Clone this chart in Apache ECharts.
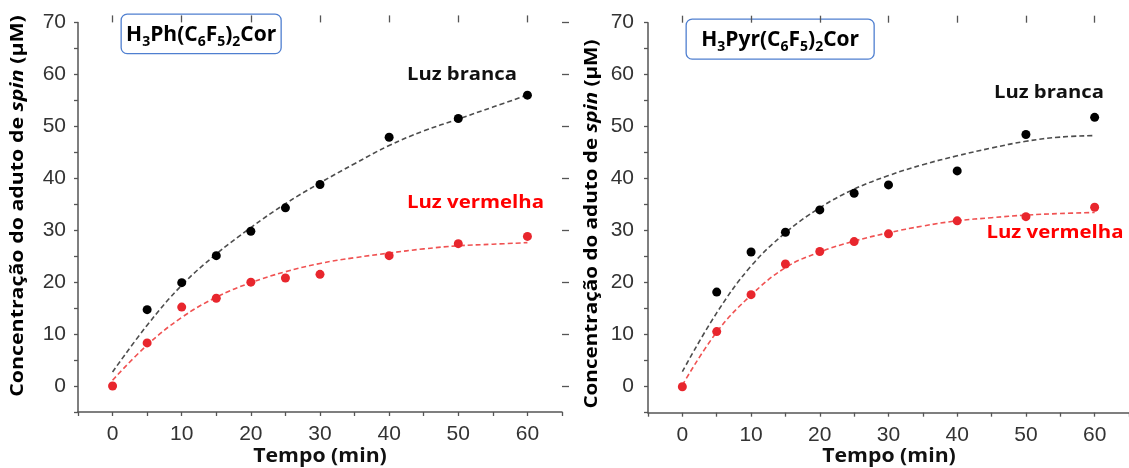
<!DOCTYPE html>
<html>
<head>
<meta charset="utf-8">
<script src="https://cdn.jsdelivr.net/npm/echarts@6/dist/echarts.min.js"></script>
<style>
  html, body { margin: 0; padding: 0; background: #fff; }
  #chart { width: 1129px; height: 468px; }
</style>
</head>
<body>
<div id="chart"></div>
<script>
// Sampling times (min)
const times = [0, 5, 10, 15, 20, 25, 30, 40, 50, 60];
const fitTimes = [0, 5, 10, 15, 20, 25, 30, 35, 40, 45, 50, 55, 60];

// H3Ph(C6F5)2Cor — measured spin-adduct concentration (µM)
const phWhite = [null, 14.7, 19.9, 25.1, 29.8, 34.3, 38.8, 47.9, 51.5, 56.0];
const phRed   = [0, 8.3, 15.2, 16.9, 20.0, 20.8, 21.5, 25.1, 27.4, 28.8];
// H3Ph(C6F5)2Cor — fitted kinetic curves
const phWhiteFit = [2.7, 11.7, 19.4, 25.4, 30.5, 35.1, 39.1, 42.8, 46.3, 49.1, 51.4, 53.7, 56.0];
const phRedFit   = [1.1, 7.9, 13.2, 17.1, 19.9, 22.0, 23.6, 24.7, 25.6, 26.4, 27.0, 27.3, 27.6];

// H3Pyr(C6F5)2Cor — measured spin-adduct concentration (µM)
const pyrWhite = [null, 18.2, 25.9, 29.7, 34.0, 37.2, 38.8, 41.5, 48.5, 51.8];
const pyrRed   = [0, 10.6, 17.7, 23.6, 26.0, 27.9, 29.4, 31.9, 32.7, 34.5];
// H3Pyr(C6F5)2Cor — fitted kinetic curves
const pyrWhiteFit = [2.9, 14.2, 23.2, 29.6, 34.4, 38.0, 40.6, 42.7, 44.4, 45.9, 47.2, 48.0, 48.3];
const pyrRedFit   = [0.3, 10.5, 17.6, 22.9, 25.9, 28.0, 29.6, 30.9, 31.9, 32.5, 33.0, 33.3, 33.5];

const xTickLabels = [0, 10, 20, 30, 40, 50, 60];
const yTickLabels = [0, 10, 20, 30, 40, 50, 60, 70];

const pairs = (xs, ys) => xs.map((x, i) => [x, ys[i]]).filter(p => p[1] !== null);

const AXIS_COLOR = '#555';
const LABEL_FONT = 'Liberation Sans';
const BOLD_FONT = 'Open Sans';

function xAxes(grid, margin) {
  return [
    {
      type: 'value', gridIndex: grid, min: -5, max: 65, interval: 5,
      axisLine: { show: true, onZero: false, lineStyle: { color: AXIS_COLOR, width: 1.5 } },
      axisTick: { show: true, length: 4, lineStyle: { color: AXIS_COLOR, width: 1.3 } },
      axisLabel: { customValues: xTickLabels, color: '#333', fontSize: 21, fontFamily: LABEL_FONT, margin: margin },
      splitLine: { show: false }
    },
    {
      type: 'value', gridIndex: grid, min: -5, max: 65, interval: 5,
      axisLine: { show: false, onZero: false },
      axisTick: { show: true, length: 7, customValues: xTickLabels, lineStyle: { color: AXIS_COLOR, width: 1.3 } },
      axisLabel: { show: false },
      splitLine: { show: false }
    }
  ];
}

function yAxes(grid, margin) {
  return [
    {
      type: 'value', gridIndex: grid, min: -5, max: 70, interval: 5,
      axisLine: { show: true, onZero: false, lineStyle: { color: AXIS_COLOR, width: 1.5 } },
      axisTick: { show: true, length: 4, lineStyle: { color: AXIS_COLOR, width: 1.3 } },
      axisLabel: { customValues: yTickLabels, color: '#333', fontSize: 21, fontFamily: LABEL_FONT, margin: margin },
      splitLine: { show: false }
    },
    {
      type: 'value', gridIndex: grid, min: -5, max: 70, interval: 5,
      axisLine: { show: false, onZero: false },
      axisTick: { show: true, length: 7, customValues: yTickLabels, lineStyle: { color: AXIS_COLOR, width: 1.3 } },
      axisLabel: { show: false },
      splitLine: { show: false }
    }
  ];
}

function scatter(axis, data, color) {
  return {
    type: 'scatter', xAxisIndex: axis, yAxisIndex: axis, data: data,
    symbol: 'circle', symbolSize: 9, itemStyle: { color: color, opacity: 1 }, z: 3, silent: true
  };
}

function fit(axis, data, color) {
  return {
    type: 'line', xAxisIndex: axis, yAxisIndex: axis, data: data,
    showSymbol: false, smooth: 0.4, z: 2, silent: true,
    lineStyle: { color: color, width: 1.6, type: [5, 3] }
  };
}

const formulaRich = {
  n: { fontFamily: BOLD_FONT, fontWeight: 'bold', fontSize: 21, color: '#111', lineHeight: 28 },
  s: { fontFamily: BOLD_FONT, fontWeight: 'bold', fontSize: 14, color: '#111', lineHeight: 14, verticalAlign: 'bottom' }
};

function box(x, y, w, h, text) {
  return {
    type: 'group', left: x, top: y,
    children: [
      { type: 'rect', shape: { x: 0, y: 0, width: w, height: h, r: 6 },
        style: { fill: '#fff', stroke: '#4f7fd0', lineWidth: 1.3 } },
      { type: 'text', x: w / 2, y: h / 2 + 1,
        style: { text: text, rich: formulaRich, align: 'center', verticalAlign: 'middle' } }
    ]
  };
}

const yNameRich = {
  b: { fontFamily: BOLD_FONT, fontWeight: 'bold', fontSize: 17.5, color: '#111' },
  i: { fontFamily: BOLD_FONT, fontWeight: 'bold', fontStyle: 'italic', fontSize: 17.5, color: '#111' }
};

function yName(cx, cy, sx) {
  return {
    type: 'text', x: cx, y: cy, rotation: Math.PI / 2, scaleX: sx,
    style: { text: '{b|Concentração do aduto de }{i|spin}{b| (μM)}', rich: yNameRich,
             align: 'center', verticalAlign: 'middle' }
  };
}

function label(cx, cy, text, color, sx, size) {
  return {
    type: 'text', x: cx, y: cy, scaleX: sx,
    style: { text: text, fill: color, font: 'bold ' + size + 'px "' + BOLD_FONT + '"',
             align: 'center', verticalAlign: 'middle' }
  };
}

const option = {
  animation: false,
  backgroundColor: '#fff',
  grid: [
    { left: 78, top: 22.4, width: 484, height: 389.6 },
    { left: 648, top: 22.7, width: 482, height: 390 }
  ],
  xAxis: [...xAxes(0, 12), ...xAxes(1, 12)],
  yAxis: [...yAxes(0, 12), ...yAxes(1, 14)],
  series: [
    fit(0, pairs(fitTimes, phWhiteFit), '#4d4d4d'),
    fit(0, pairs(fitTimes, phRedFit), '#f05252'),
    scatter(0, pairs(times, phWhite), '#000'),
    scatter(0, pairs(times, phRed), '#e8262d'),
    fit(2, pairs(fitTimes, pyrWhiteFit), '#4d4d4d'),
    fit(2, pairs(fitTimes, pyrRedFit), '#f05252'),
    scatter(2, pairs(times, pyrWhite), '#000'),
    scatter(2, pairs(times, pyrRed), '#e8262d')
  ],
  graphic: [
    box(120.5, 13.5, 160, 39.5, '{n|H}{s|3}{n|Ph(C}{s|6}{n|F}{s|5}{n|)}{s|2}{n|Cor}'),
    box(685.5, 18.5, 188, 40, '{n|H}{s|3}{n|Pyr(C}{s|6}{n|F}{s|5}{n|)}{s|2}{n|Cor}'),
    yName(18.5, 206, 1.22),
    yName(592, 224, 1.18),
    label(320, 456, 'Tempo (min)', '#111', 1.09, 19.5),
    label(889, 456, 'Tempo (min)', '#111', 1.09, 19.5),
    label(462, 75, 'Luz branca', '#111', 1.19, 17),
    label(475.5, 203, 'Luz vermelha', '#ff0000', 1.2, 17),
    label(1049, 93, 'Luz branca', '#111', 1.19, 17),
    label(1055, 233, 'Luz vermelha', '#ff0000', 1.2, 17)
  ]
};

const chart = echarts.init(document.getElementById('chart'), null, { renderer: 'canvas' });
chart.setOption(option);
</script>
</body>
</html>
